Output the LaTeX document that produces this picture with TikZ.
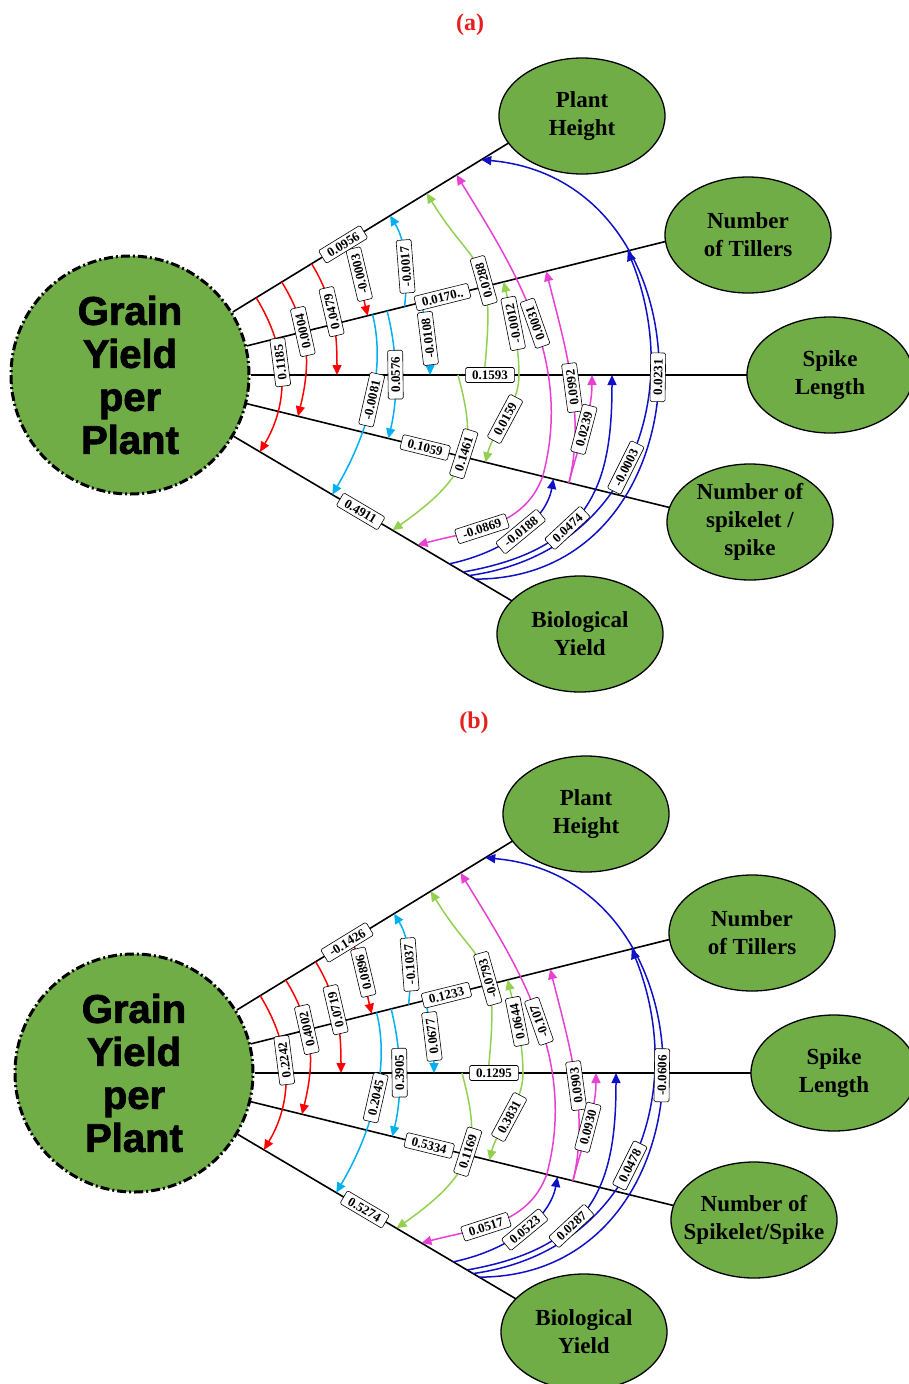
\documentclass[tikz,border=0pt]{standalone}
\usepackage{fontspec}
\setmainfont{Liberation Serif}
\newfontfamily\gyfont[BoldFeatures={FakeBold=2}]{Liberation Sans}
\usetikzlibrary{arrows.meta,calc,shapes.geometric}
\pgfdeclarelayer{background}
\pgfsetlayers{background,main}
\definecolor{ggreen}{RGB}{112,173,71}
\definecolor{cred}{RGB}{255,0,0}
\definecolor{ccyan}{RGB}{0,176,240}
\definecolor{cgreen}{RGB}{146,208,80}
\definecolor{cmag}{RGB}{232,64,210}
\definecolor{cblue}{RGB}{16,16,200}
\definecolor{tred}{RGB}{230,30,30}
\tikzset{
  en/.style={ellipse, draw=black, line width=1.3pt, fill=ggreen, minimum width=166pt, minimum height=116pt, inner sep=0pt, align=center, font=\fontsize{23}{28}\selectfont\bfseries},
  ens/.style={en, inner xsep=-14pt, inner ysep=-6pt},
  gy/.style={circle, draw=black, line width=3pt, dash pattern=on 9pt off 3pt on 2pt off 3pt, fill=ggreen, minimum size=238pt, inner sep=0pt, align=center, font=\gyfont\bfseries\fontsize{40}{43}\selectfont},
  ln/.style={line width=1.6pt, black},
  lab/.style={draw=black, line width=0.6pt, fill=white, rounded corners=1.5pt, inner xsep=6.5pt, inner ysep=3pt, text height=9pt, text depth=0pt, font=\fontsize{13}{13}\selectfont\bfseries},
  ttl/.style={text=tred, font=\fontsize{24}{24}\selectfont\bfseries},
  aS/.style={{Triangle[length=10pt,width=9pt]}-},
  aE/.style={-{Triangle[length=10pt,width=9pt]}},
  rd/.style={cred, line width=1.5pt},
  cy/.style={ccyan, line width=1.5pt},
  gr/.style={cgreen, line width=1.5pt},
  mg/.style={cmag, line width=1.5pt},
  bl/.style={cblue, line width=1.5pt},
}
\newcommand\myarc[6]{%
  \begin{pgfonlayer}{background}
    \draw[#1] #2 .. controls #3 .. #4;
  \end{pgfonlayer}
  \path #2 .. controls #3 .. #4 node[lab,pos=#5,sloped,allow upside down] {#6};}
\newcommand\drawpanel[5]{%
  \coordinate (#1C) at ({130+#4},{-375-#5});
  \node[ttl] (#1T) at ({470+#4},{-25-#5}) {#2};
  \node[gy] (#1G) at (#1C) {Grain\\Yield\\per\\Plant};
  \node[en] (#1PH) at ({582+#4},{-116-#5}) {Plant\\Height};
  \node[en] (#1NT) at ({748+#4},{-235-#5}) {Number\\of Tillers};
  \node[en] (#1SL) at ({830+#4},{-375-#5}) {Spike\\Length};
  \node[ens] (#1NS) at ({750+#4},{-522-#5}) {#3};
  \node[en] (#1BY) at ({580+#4},{-634-#5}) {Biological\\Yield};
  \coordinate (#1tPH) at ($(#1C)+(31.5:480)$);
  \coordinate (#1tNT) at ($(#1C)+(14:600)$);
  \coordinate (#1tSL) at ($(#1C)+(0:650)$);
  \coordinate (#1tNS) at ($(#1C)+(-13.8:600)$);
  \coordinate (#1tBY) at ($(#1C)+(-30.6:480)$);
  \begin{pgfonlayer}{background}
    \draw[ln] (#1G) -- (#1tPH);
    \draw[ln] (#1G) -- (#1tNT);
    \draw[ln] (#1G) -- (#1tSL);
    \draw[ln] (#1G) -- (#1tNS);
    \draw[ln] (#1G) -- (#1tBY);
  \end{pgfonlayer}
  % red: from Plant Height
  \myarc{rd,aS}{($(#1C)+(-30.6:151)$)}{+(59.4:60) and +(-58.5:60)}{($(#1C)+(31.5:148)$)}{0.58}{\lRA}
  \myarc{rd,aS}{($(#1C)+(-13.8:173)$)}{+(76.2:54) and +(-58.5:54)}{($(#1C)+(31.5:178)$)}{0.62}{\lRB}
  \myarc{rd,aS}{($(#1C)+(0:207)$)}{+(90:43) and +(-58.5:43)}{($(#1C)+(31.5:213)$)}{0.55}{\lRC}
  \myarc{rd,aS}{($(#1C)+(14:245)$)}{+(104:28) and +(-58.5:28)}{($(#1C)+(31.5:254)$)}{0.55}{\lRD}
  % cyan: from Number of Tillers
  \myarc{cy,aE}{($(#1C)+(14:283)$)}{+(84:36) and +(-58.5:30)}{($(#1C)+(31.5:305)$)}{0.4}{\lCA}
  \myarc{cy,aS}{($(#1C)+(0:300)$)}{+(90:26) and +(-76:26)}{($(#1C)+(14:300)$)}{0.5}{\lCB}
  \myarc{cy,aS}{($(#1C)+(-30.6:235)$)}{+(59.4:62) and +(-76:62)}{($(#1C)+(14:250)$)}{0.54}{\lCC}
  \myarc{cy,aS}{($(#1C)+(-13.8:266)$)}{+(76.2:43) and +(-76:43)}{($(#1C)+(14:265)$)}{0.5}{\lCD}
  % green: from Spike Length
  \myarc{gr,aE}{($(#1C)+(0:354)$)}{+(84:125) and +(-58.5:95)}{($(#1C)+(31.5:348)$)}{0.4}{\lGA}
  \myarc{gr,aS}{($(#1C)+(-30.6:305)$)}{+(35:100) and +(-75:70)}{($(#1C)+(0:328)$)}{0.52}{\lGB}
  \myarc{gr,aE}{($(#1C)+(0:389)$)}{+(90:31) and +(-76:31)}{($(#1C)+(14:385)$)}{0.55}{\lGC}
  \myarc{gr,aS}{($(#1C)+(-13.8:366)$)}{+(76.2:32) and +(-90:32)}{($(#1C)+(0:389)$)}{0.5}{\lGD}
  % magenta: from spikelet
  \myarc{mg,aE}{($(#1C)+(-13.8:425)$)}{+(75:120) and +(-58.5:110)}{($(#1C)+(31.5:383)$)}{0.48}{\lMA}
  \myarc{mg,aE}{($(#1C)+(-13.8:452)$)}{+(76.2:72) and +(-76:72)}{($(#1C)+(14:429)$)}{0.45}{\lMB}
  \myarc{mg,aE}{($(#1C)+(-13.8:452)$)}{+(76.2:38) and +(-90:38)}{($(#1C)+(0:462)$)}{0.5}{\lMC}
  \myarc{mg,aS}{($(#1C)+(-30.6:334)$)}{+(15:55) and +(-110:55)}{($(#1C)+(-13.8:425)$)}{0.42}{\lMD}
  % blue: from Biological Yield
  \myarc{bl,aE}{($(#1C)+(-30.6:371)$)}{+(12:60) and +(-100:40)}{($(#1C)+(-13.8:436)$)}{0.5}{\lBA}
  \myarc{bl,aE}{($(#1C)+(-30.6:387)$)}{+(10:130) and +(-90:110)}{($(#1C)+(0:482)$)}{0.38}{\lBB}
  \myarc{bl,aE}{($(#1C)+(-30.6:394)$)}{+(8:165) and +(-68:150)}{($(#1C)+(14:513)$)}{0.47}{\lBC}
  \myarc{bl,aE}{($(#1C)+(-30.6:401)$)}{+(0:240) and +(-5:240)}{($(#1C)+(31.5:412)$)}{0.5}{\lBD}
  % direct effects
  \node[lab,rotate=31.5] (#1dPH) at ($(#1C)+(31.5:250)$) {\lPH};
  \node[lab,rotate=14] (#1dNT) at ($(#1C)+(14:322)$) {\lNT};
  \node[lab] (#1dSL) at ($(#1C)+(0:360)$) {\lSL};
  \node[lab,rotate=-13.8] (#1dNS) at ($(#1C)+(-13.8:304)$) {\lNS};
  \node[lab,rotate=-30.6] (#1dBY) at ($(#1C)+(-30.6:268)$) {\lBY};
}
\begin{document}
\begin{tikzpicture}[x=1pt,y=1pt]
\useasboundingbox (0,0) rectangle (909,-1384);
% panel (a)
\def\lPH{0.0956}\def\lNT{0.0170..}\def\lSL{0.1593}\def\lNS{0.1059}\def\lBY{0.4911}
\def\lRA{0.1185}\def\lRB{0.0004}\def\lRC{0.0479}\def\lRD{-0.0003}
\def\lCA{-0.0017}\def\lCB{-0.0108}\def\lCC{-0.0081}\def\lCD{0.0576}
\def\lGA{0.0288}\def\lGB{0.1461}\def\lGC{-0.0012}\def\lGD{0.0159}
\def\lMA{0.0031}\def\lMB{0.0992}\def\lMC{0.0239}\def\lMD{-0.0869}
\def\lBA{-0.0188}\def\lBB{0.0474}\def\lBC{-0.0003}\def\lBD{0.0231}
\drawpanel{a}{(a)}{Number of\\spikelet /\\spike}{0}{0}
% panel (b)
\def\lPH{-0.1426}\def\lNT{0.1233}\def\lSL{0.1295}\def\lNS{0.5334}\def\lBY{0.5274}
\def\lRA{0.2242}\def\lRB{0.4002}\def\lRC{0.0719}\def\lRD{0.0896}
\def\lCA{-0.1037}\def\lCB{0.0677}\def\lCC{0.2045}\def\lCD{0.3905}
\def\lGA{-0.0793}\def\lGB{0.1169}\def\lGC{0.0644}\def\lGD{0.3831}
\def\lMA{-0.107}\def\lMB{0.0903}\def\lMC{0.0930}\def\lMD{0.0517}
\def\lBA{0.0523}\def\lBB{0.0287}\def\lBC{0.0478}\def\lBD{-0.0606}
\drawpanel{b}{(b)}{Number of\\Spikelet/Spike}{4}{698}
\end{tikzpicture}
\end{document}
